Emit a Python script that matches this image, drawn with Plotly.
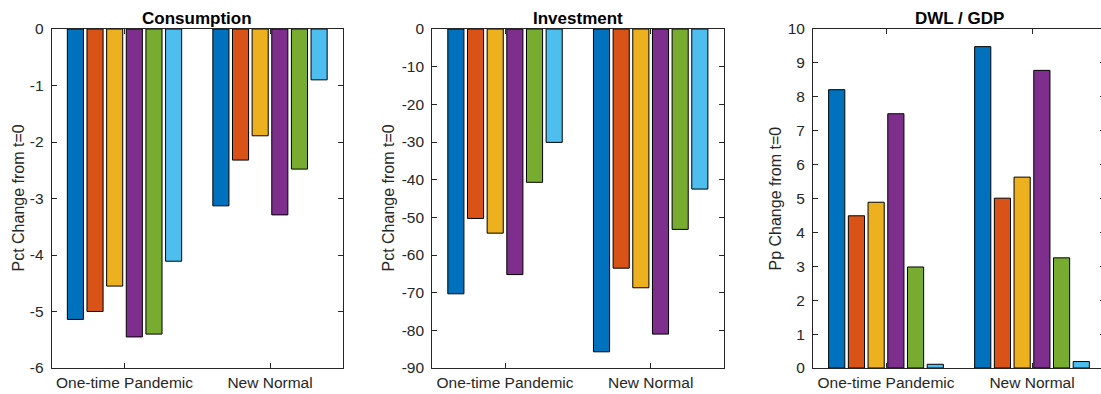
import plotly.graph_objects as go

categories = ["One-time Pandemic", "New Normal"]
series_colors = ["#0072BD", "#D95319", "#EDB120", "#7E2F8E", "#77AC30", "#4DBEEE"]

# values: rows = series (6), columns = categories (2)
consumption = [
    [-5.14, -3.13],
    [-5.00, -2.32],
    [-4.55, -1.89],
    [-5.45, -3.29],
    [-5.40, -2.48],
    [-4.11, -0.90],
]
investment = [
    [-70.3, -85.7],
    [-50.3, -63.5],
    [-54.2, -68.7],
    [-65.2, -81.0],
    [-40.7, -53.2],
    [-30.1, -42.5],
]
dwl_gdp = [
    [8.21, 9.48],
    [4.49, 5.01],
    [4.89, 5.63],
    [7.50, 8.78],
    [2.98, 3.25],
    [0.11, 0.19],
]

titles = ["Consumption", "Investment", "DWL / GDP"]
ytitles = ["Pct Change from t=0", "Pct Change from t=0", "Pp Change from t=0"]
ytickvals = [
    [-6, -5, -4, -3, -2, -1, 0],
    [-90, -80, -70, -60, -50, -40, -30, -20, -10, 0],
    [0, 1, 2, 3, 4, 5, 6, 7, 8, 9, 10],
]
ytick_labels = [[str(v).replace("\u2212", "-") for v in tv] for tv in ytickvals]
yranges = [[-6, 0], [-90, 0], [0, 10]]
panels = [consumption, investment, dwl_gdp]

W, H = 1106, 394
px_domains = [(51.75, 342.75), (432.2, 723.5), (813, 1105)]
ytitle_px = [18, 388, 775]
FONT = "Liberation Sans, Arial, Helvetica, sans-serif"
AXC = "#262626"

fig = go.Figure()
xpos = [1, 2]
for p, data in enumerate(panels):
    ax = "" if p == 0 else str(p + 1)
    for s, vals in enumerate(data):
        fig.add_trace(go.Bar(
            x=xpos, y=vals, xaxis="x" + ax, yaxis="y" + ax,
            marker=dict(color=series_colors[s], line=dict(color="#000000", width=1)),
            showlegend=False, hoverinfo="skip",
        ))

layout = dict(
    width=W, height=H,
    margin=dict(l=0, r=0, t=29, b=26),
    paper_bgcolor="white", plot_bgcolor="white",
    barmode="group", bargap=0.19, bargroupgap=0.18,
    font=dict(family=FONT, size=15, color=AXC),
    annotations=[],
)
for p in range(3):
    ax = "" if p == 0 else str(p + 1)
    d0, d1 = px_domains[p]
    dom = [d0 / W, d1 / W]
    layout["xaxis" + ax] = dict(
        domain=dom, anchor="y" + ax, range=[0.5, 2.5],
        tickvals=xpos, ticktext=categories,
        ticks="inside", ticklen=5, tickcolor=AXC, tickwidth=1,
        showline=True, linecolor=AXC, linewidth=1, mirror="ticks",
        showgrid=False, zeroline=False, fixedrange=True,
        tickfont=dict(size=15.5, family=FONT, color=AXC),
    )
    layout["yaxis" + ax] = dict(
        domain=[0, 1], anchor="x" + ax, range=yranges[p],
        tickvals=ytickvals[p], ticktext=ytick_labels[p],
        ticks="inside", ticklen=5, tickcolor=AXC, tickwidth=1,
        showline=True, linecolor=AXC, linewidth=1, mirror="ticks",
        showgrid=False, zeroline=False, fixedrange=True,
        tickfont=dict(size=15.5, family=FONT, color=AXC),
        ticklabelstandoff=4,
    )
    layout["annotations"].append(dict(
        text="<b>" + titles[p] + "</b>", xref="paper", yref="paper",
        x=(dom[0] + dom[1]) / 2, y=1, xanchor="center", yanchor="bottom",
        yshift=-1, showarrow=False, font=dict(size=17, family=FONT, color="#000000"),
    ))
    layout["annotations"].append(dict(
        text=ytitles[p], xref="paper", yref="paper",
        x=dom[0], y=0.5, xanchor="center", yanchor="middle",
        xshift=ytitle_px[p] - d0,
        textangle=-90, showarrow=False, font=dict(size=16, family=FONT, color=AXC),
    ))

fig.update_layout(**layout)
fig.write_html("out.html", post_script="document.documentElement.style.overflow='hidden';document.body.style.overflow='hidden';")
